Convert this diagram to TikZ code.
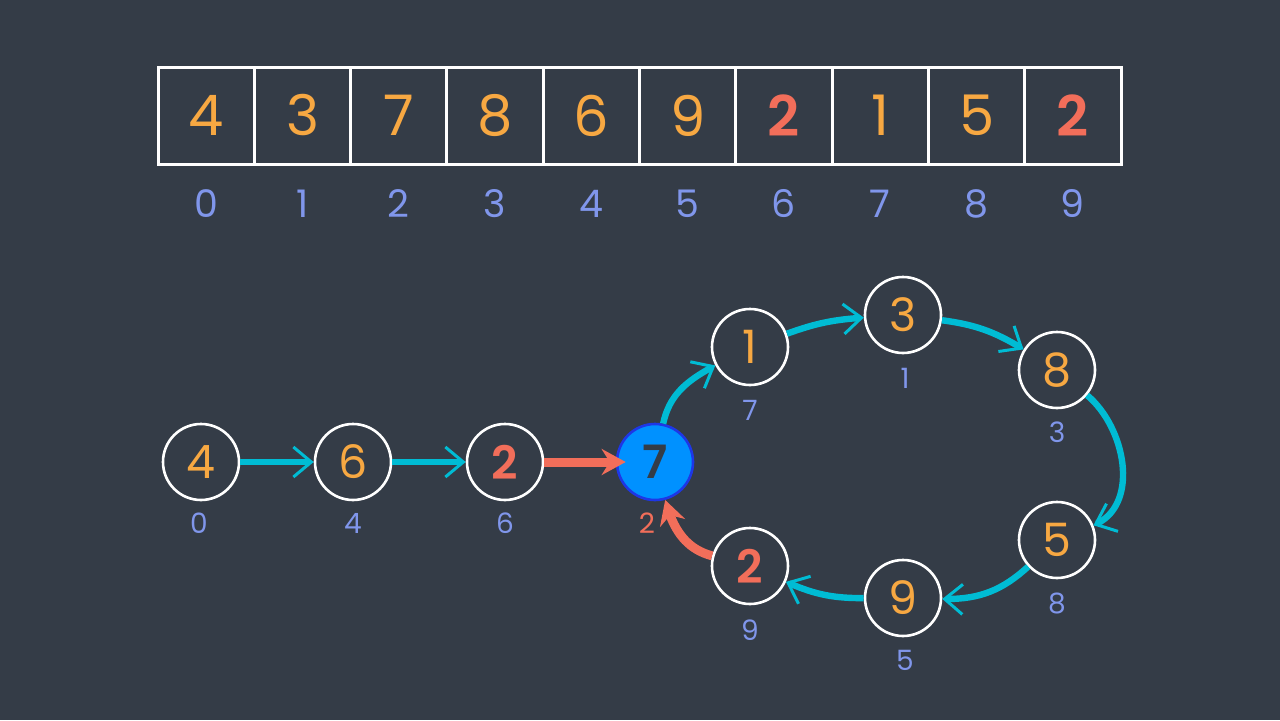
\documentclass[tikz,border=0pt]{standalone}
\usepackage{fontspec}
\setmainfont{Poppins}[BoldFont={Poppins SemiBold}]
\usetikzlibrary{arrows.meta,bending}
\definecolor{bg}{RGB}{52,60,71}
\definecolor{val}{RGB}{247,168,66}
\definecolor{dup}{RGB}{242,110,90}
\definecolor{idx}{RGB}{128,150,235}
\definecolor{link}{RGB}{0,188,212}
\definecolor{meet}{RGB}{0,145,255}
\definecolor{meetrim}{RGB}{30,55,230}

\begin{document}
\begin{tikzpicture}[x=0.5pt,y=0.5pt,
  cell/.style={draw=white,line width=1.5pt,minimum width=48.15pt,minimum height=48.5pt,inner sep=0pt,text=val,font=\fontsize{28}{28}\selectfont},
  cellidx/.style={text=idx,font=\fontsize{19}{19}\selectfont},
  vert/.style={circle,draw=white,line width=1.3pt,minimum size=38pt,inner sep=0pt,text=val,font=\fontsize{23}{23}\selectfont},
  vertidx/.style={text=idx,font=\fontsize{14}{14}\selectfont},
  hop/.style={draw=link,line width=3.2pt,-{Straight Barb[length=9pt,width=15pt,line width=1.5pt]}},
  back/.style={draw=dup,line width=4.5pt,-{Stealth[length=12pt,width=13pt,inset=4pt]}}]
\fill[bg] (0,0) rectangle (1280,720);

% array
\node[cell] (c0) at (206.2,604.5) {4};
\node[cell] (c1) at (302.5,604.5) {3};
\node[cell] (c2) at (398.8,604.5) {7};
\node[cell] (c3) at (495.1,604.5) {8};
\node[cell] (c4) at (591.4,604.5) {6};
\node[cell] (c5) at (687.7,604.5) {9};
\node[cell,text=dup] (c6) at (784.0,604.5) {\bfseries 2};
\node[cell] (c7) at (880.3,604.5) {1};
\node[cell] (c8) at (976.6,604.5) {5};
\node[cell,text=dup] (c9) at (1072.9,604.5) {\bfseries 2};
\node[cellidx] (i0) at (206.2,516) {0};
\node[cellidx] (i1) at (302.5,516) {1};
\node[cellidx] (i2) at (398.8,516) {2};
\node[cellidx] (i3) at (495.1,516) {3};
\node[cellidx] (i4) at (591.4,516) {4};
\node[cellidx] (i5) at (687.7,516) {5};
\node[cellidx] (i6) at (784.0,516) {6};
\node[cellidx] (i7) at (880.3,516) {7};
\node[cellidx] (i8) at (976.6,516) {8};
\node[cellidx] (i9) at (1072.9,516) {9};

% linked list
\node[vert] (n0) at (201,258) {4};
\node[vert] (n4) at (353,258) {6};
\node[vert,text=dup] (n6) at (505,258) {\bfseries 2};
\node[vert,fill=meet,draw=meetrim,text=bg] (n2) at (655,258) {\bfseries 7};
\node[vert] (n7) at (750,373) {1};
\node[vert] (n1) at (903,405) {3};
\node[vert] (n3) at (1057,350) {8};
\node[vert] (n8) at (1057,180) {5};
\node[vert] (n5) at (903,122) {9};
\node[vert,text=dup] (n9) at (750,154) {\bfseries 2};
\node[vertidx] (l0) at (199,197) {0};
\node[vertidx] (l4) at (353,197) {4};
\node[vertidx] (l6) at (505,197) {6};
\node[vertidx,text=dup] (l2) at (647,197) {2};
\node[vertidx] (l7) at (750,310) {7};
\node[vertidx] (l1) at (905,342) {1};
\node[vertidx] (l3) at (1057,288) {3};
\node[vertidx] (l8) at (1057,117) {8};
\node[vertidx] (l5) at (905,60) {5};
\node[vertidx] (l9) at (750,90) {9};

\draw[hop] (n0) -- (n4);
\draw[hop] (n4) -- (n6);
\draw[back,shorten >=-5pt] (n6) -- (n2);
\draw[hop] (n2) to[out=78,in=208] (n7);
\draw[hop] (n7) to[bend left=8] (n1);
\draw[hop] (n1) to[bend left=12] (n3);
\draw[hop] (n3) to[out=-40,in=22] (n8);
\draw[hop] (n8) to[bend left=22] (n5);
\draw[hop] (n5) to[bend left=12] (n9);
\draw[back] (n9) to[out=165,in=-75] (n2);
\end{tikzpicture}
\end{document}
